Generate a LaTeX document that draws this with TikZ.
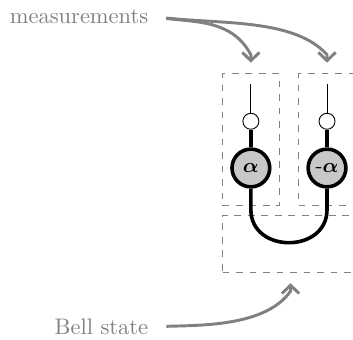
\documentclass[tikz,border=0pt]{standalone}
\usepackage{amsmath, amssymb}
\usetikzlibrary{arrows.meta, positioning, calc}
\definecolor{mGray}{HTML}{808080}
\definecolor{mFill}{HTML}{C8C8C8}
\tikzset{
  qubit/.style={circle, draw, line width=1.6pt, fill=mFill, minimum size=0.59cm, inner sep=0pt},
  meter/.style={circle, draw, thin, fill=white, minimum size=0.25cm, inner sep=0pt},
  dashbox/.style={draw=mGray, dashed, thin, inner sep=0pt, outer sep=0pt},
  callout/.style={-{Straight Barb[length=1.3mm, width=2.7mm]}, line width=1.3pt, mGray},
  wire/.style={line width=1.6pt}
}
\begin{document}
\begin{tikzpicture}
    \useasboundingbox (-3.92,2.625) rectangle (1.596,-2.6875);
    \clip (-3.92,2.625) rectangle (1.596,-2.6875);
    % boxes
    \node[dashbox, minimum width=0.89cm, minimum height=2.06cm] (boxa) at (0,0.44) {};
    \node[dashbox, minimum width=0.89cm, minimum height=2.06cm] (boxb) at (1.19,0.44) {};
    \node[dashbox, minimum width=2.125cm, minimum height=0.89cm] (bell) at (0.62,-1.18) {};
    % qubits
    \node[qubit] (a) at (0,0) {\small $\boldsymbol{\alpha}$};
    \node[qubit] (b) at (1.19,0) {\small $\boldsymbol{\text{-}\alpha}$};
    \node[meter] (ma) at (0,0.73) {};
    \node[meter] (mb) at (1.19,0.73) {};
    \coordinate (ta) at (0,1.31);
    \coordinate (tb) at (1.19,1.31);
    \draw[thin] (ta) -- (ma);
    \draw[thin] (tb) -- (mb);
    \draw[wire] (ma) -- (a);
    \draw[wire] (mb) -- (b);
    \draw[wire] (a.south) -- (0,-0.65) .. controls +(0,-0.69) and +(0,-0.69) .. (1.19,-0.65) -- (b.south);
    % labels
    \node[mGray, anchor=east] (meas) at (-1.48,2.36) {measurements};
    \node[mGray, anchor=east] (state) at (-1.48,-2.48) {Bell state};
    \draw[callout, shorten <=1.6mm] (meas.east) to[out=-8, in=118] ($(boxa.north)+(0,0.3)$) -- ($(boxa.north)+(0,0.175)$);
    \draw[callout, shorten <=1.6mm] (meas.east) to[out=-6, in=132, in looseness=0.7] ($(boxb.north)+(0,0.3)$) -- ($(boxb.north)+(0,0.175)$);
    \draw[callout, shorten <=1.6mm] (state.east) to[out=2, in=-125, out looseness=0.8, in looseness=0.8] ($(bell.south)+(0,-0.3)$) -- ($(bell.south)+(0,-0.175)$);
\end{tikzpicture}
\end{document}
